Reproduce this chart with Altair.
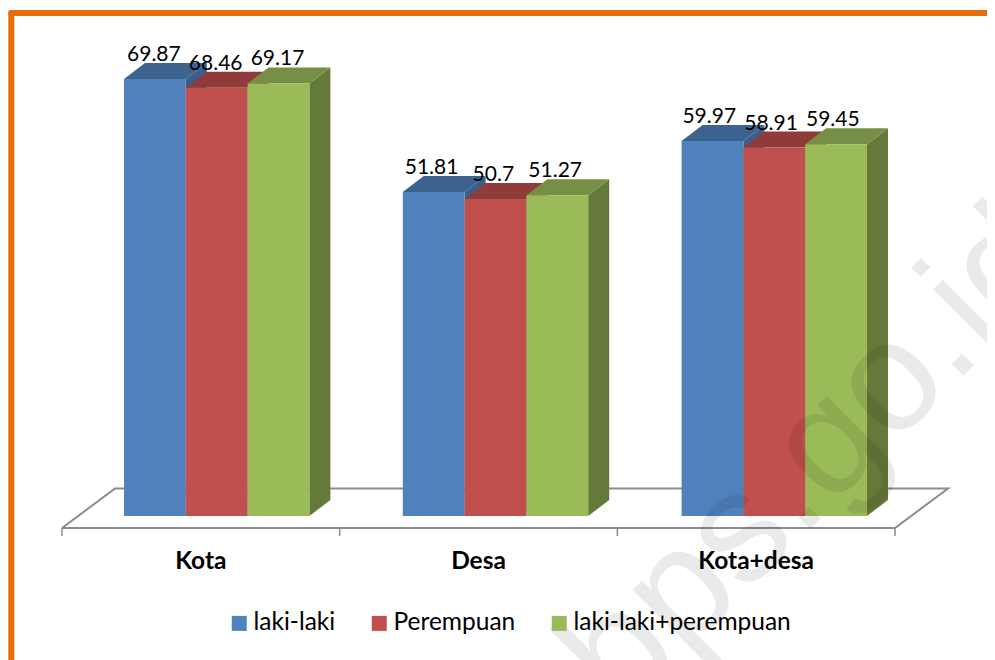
import altair as alt
import pandas as pd

categories = ["Kota", "Desa", "Kota+desa"]
series = ["laki-laki", "Perempuan", "laki-laki+perempuan"]
laki = [69.87, 51.81, 59.97]
perempuan = [68.46, 50.7, 58.91]
gabungan = [69.17, 51.27, 59.45]
values = [laki, perempuan, gabungan]

front = ["#4F81BD", "#C0504D", "#9BBB59"]
top = ["#3C6290", "#8E3B39", "#778F45"]
side = ["#3A5F8C", "#8A3836", "#657A3A"]

# canvas geometry (pixels on the 995x660 page, 8px body margin)
W, H = 979, 652
PX_X0, PX_GROUP = 62, 277.67          # x scale: one unit = one category slot
PX_Y0, PX_UNIT = 516, 6.254           # y scale: px per percentage point
def ux(px): return (px - PX_X0) / PX_GROUP
def dxu(px): return px / PX_GROUP
def duy(px): return px / PX_UNIT

xs = alt.Scale(domain=[ux(8), ux(8 + W)], range=[0, W], nice=False, zero=False)
ys = alt.Scale(domain=[(PX_Y0 - (8 + H)) / PX_UNIT, (PX_Y0 - 8) / PX_UNIT], range=[H, 0], nice=False, zero=False)
FONT = "Lato"

def X(f): return alt.X(f, type="quantitative", scale=xs, axis=None, title=None)
def Y(f): return alt.Y(f, type="quantitative", scale=ys, axis=None, title=None)

BAR_W = dxu(61.8)
BAR_STEP = dxu(278.8)
BAR_START = ux(124)
LABEL_START = ux(123)
DEPTH_X = dxu(21)
DEPTH_Y = duy(16)

layers = []

# orange frame
layers.append(alt.Chart(pd.DataFrame({"a": [0]})).mark_rule(color="#E46C0A", strokeWidth=6, strokeCap="round").encode(
    x=alt.value(3.3), x2=alt.value(W + 4), y=alt.value(5)))
layers.append(alt.Chart(pd.DataFrame({"a": [0]})).mark_rule(color="#E46C0A", strokeWidth=6, strokeCap="round").encode(
    x=alt.value(3.3), y=alt.value(5), y2=alt.value(H + 4)))

# floor
fx0, fx1 = 0, 3
fdx, fdy = dxu(53), duy(39.5)
fy = duy(-12)
floor = pd.DataFrame({
    "x": [fx0, fx0 + fdx, fx1 + fdx, fx1, fx0],
    "y": [fy, fy + fdy, fy + fdy, fy, fy],
    "o": [0, 1, 2, 3, 4],
})
layers.append(alt.Chart(floor).mark_line(color="#8C8C8C", strokeWidth=2).encode(
    x=X("x"), y=Y("y"), order="o:Q"))
ticks = pd.DataFrame({"x": [0, 1, 2, 3], "y": [fy] * 4, "y2": [fy - duy(8)] * 4})
layers.append(alt.Chart(ticks).mark_rule(color="#8C8C8C", strokeWidth=1.5).encode(
    x=X("x"), y=Y("y"), y2="y2:Q"))

color = alt.Color("series:N", scale=alt.Scale(domain=series, range=front),
                  legend=alt.Legend(title=None, orient="none", legendX=219, legendY=603,
                                    direction="horizontal", columns=3, columnPadding=31,
                                    symbolType="square", symbolSize=225, symbolStrokeWidth=0,
                                    symbolOpacity=1, labelOffset=2, labelFont=FONT, labelFontSize=24.5,
                                    labelLimit=400, labelColor="#000000", padding=0))

labels = []
for s, name in enumerate(series):
    rows_f, rows_t, rows_s = [], [], []
    for g, cat in enumerate(categories):
        v = values[s][g]
        x0 = BAR_START + g * BAR_STEP + s * BAR_W
        x1 = x0 + BAR_W
        rows_f.append({"series": name, "x": x0, "x2": x1, "y": v, "y2": 0})
        rows_t += [{"g": cat, "y": v, "x": x0, "x2": x1},
                   {"g": cat, "y": v + DEPTH_Y, "x": x0 + DEPTH_X, "x2": x1 + DEPTH_X}]
        rows_s += [{"g": cat, "x": x1, "y": v, "y2": 0},
                   {"g": cat, "x": x1 + DEPTH_X, "y": v + DEPTH_Y, "y2": DEPTH_Y}]
        labels.append({"x": LABEL_START + g + s * BAR_W + BAR_W / 2, "y": v, "t": str(v)})
    layers.append(alt.Chart(pd.DataFrame(rows_s)).mark_area(color=side[s], orient="vertical", opacity=1).encode(
        x=X("x"), y=Y("y"), y2="y2:Q", detail="g:N"))
    layers.append(alt.Chart(pd.DataFrame(rows_t)).mark_area(color=top[s], orient="horizontal", opacity=1).encode(
        y=Y("y"), x=X("x"), x2="x2:Q", detail="g:N"))
    layers.append(alt.Chart(pd.DataFrame(rows_f)).mark_rect(opacity=1).encode(
        x=X("x"), x2="x2:Q", y=Y("y"), y2="y2:Q", color=color))

layers.append(alt.Chart(pd.DataFrame(labels)).mark_text(font=FONT, fontSize=21, color="#000000", baseline="middle", dy=-24).encode(
    x=X("x"), y=Y("y"), text="t:N"))

cat_df = pd.DataFrame({"t": categories, "x": [0.5, 1.5, 2.5], "y": [duy(-46)] * 3})
layers.append(alt.Chart(cat_df).mark_text(font=FONT, fontSize=24.5, fontWeight="bold", color="#000000", baseline="middle").encode(
    x=X("x"), y=Y("y"), text="t:N"))

wm = pd.DataFrame({"t": ["bps.go.id"]})
layers.append(alt.Chart(wm).mark_text(font="Liberation Sans", fontSize=156, color="#000000", opacity=0.08,
                                      angle=315, align="center", baseline="alphabetic").encode(
    x=alt.value(838), y=alt.value(485), text="t:N"))

chart = alt.layer(*layers).properties(
    width=W, height=H, padding=0, background="#FFFFFF",
    autosize=alt.AutoSizeParams(type="none"),
).configure_view(stroke=None)

chart.save("out.html", embed_options={"renderer": "svg", "actions": False})
